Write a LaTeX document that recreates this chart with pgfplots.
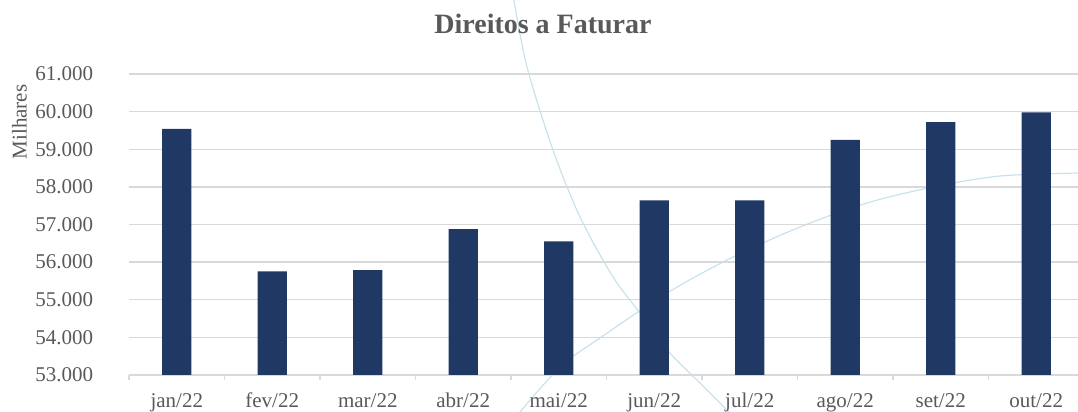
\documentclass[border=0pt]{standalone}
\usepackage{pgfplots}
\pgfplotsset{compat=1.18}
\usepackage{fontspec}
\setmainfont{Liberation Serif}
\definecolor{barnavy}{RGB}{32,56,100}
\definecolor{gridgrey}{RGB}{217,217,217}
\definecolor{txtgrey}{RGB}{89,89,89}
\definecolor{arcblue}{RGB}{200,226,236}

\begin{document}
\begin{tikzpicture}
\clip (0,0) rectangle (539pt,206pt);
% decorative arcs of the slide background (pixel coordinates, y from top)
\begin{scope}[x=0.5pt,y=-0.5pt,yshift=206pt,arcblue,line width=0.6pt]
\draw plot[smooth] coordinates {(513,-5) (527,67) (553,150) (580,217) (613,277) (640,313) (670,353) (700,383) (735,418)};
\draw plot[smooth] coordinates {(515,418) (560,367) (600,338) (667,293) (733,257) (800,227) (867,203) (933,187) (1000,176) (1080,173)};
\end{scope}
\node[font=\fontsize{14}{16}\selectfont\bfseries, text=txtgrey] at (271.5pt,194pt) {Direitos a Faturar};
\begin{axis}[
	at={(64.5pt,18.5pt)}, anchor=south west,
	scale only axis,
	width=477.5pt, height=150.5pt,
	xmin=-0.5, xmax=9.5,
	ymin=53000, ymax=61000,
	ytick distance=1000,
	scaled y ticks=false,
	xtick={0,...,9},
	xticklabels={jan/22,fev/22,mar/22,abr/22,mai/22,jun/22,jul/22,ago/22,set/22,out/22},
	minor xtick={-0.5,0.5,...,9.5},
	axis x line*=bottom, axis y line*=left,
	x axis line style={draw=gridgrey, line width=0.65pt},
	y axis line style={draw=none},
	ymajorgrids,
	grid style={draw=gridgrey, line width=0.65pt},
	major x tick style={draw=none},
	minor x tick style={draw=gridgrey, line width=0.65pt},
	ytick style={draw=none},
	tick align=outside,
	minor tick length=2.5pt,
	ticklabel style={font=\fontsize{10.5}{12}\selectfont, text=txtgrey},
	yticklabel style={anchor=east, inner sep=0pt, xshift=-13.5pt,
		/pgf/number format/.cd, fixed, precision=0, 1000 sep={.}, assume math mode=true},
	xticklabel style={anchor=base, inner sep=0pt, yshift=-12pt},
]
\addplot[ybar, bar width=0.307, fill=barnavy, draw=none] coordinates {
	(0,59540) (1,55755) (2,55790) (3,56875) (4,56550)
	(5,57640) (6,57640) (7,59250) (8,59720) (9,59980)
};
\end{axis}
\node[rotate=90, font=\fontsize{10.5}{12}\selectfont, text=txtgrey] at (9.75pt,145pt) {Milhares};
\end{tikzpicture}
\end{document}
